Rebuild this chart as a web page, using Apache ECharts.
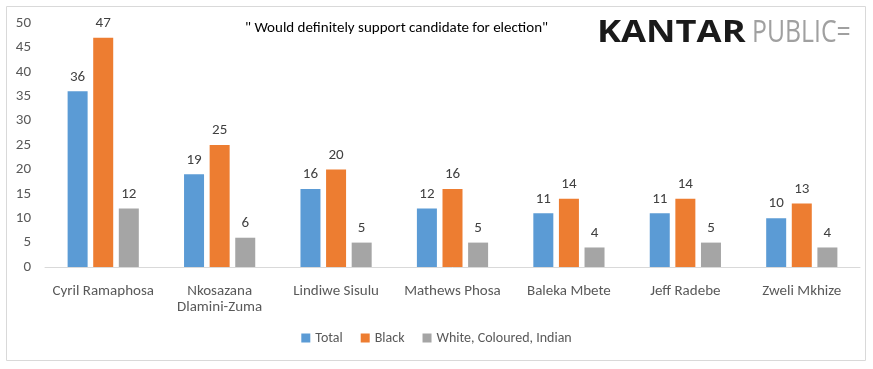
<!DOCTYPE html>
<html><head><meta charset="utf-8">
<script src="https://cdn.jsdelivr.net/npm/echarts@6/dist/echarts.min.js"></script>
<style>html,body{margin:0;padding:0;background:#fff}#c{width:873px;height:369px}</style>
</head><body><div id="c"></div>
<script>
const categories = ["Cyril Ramaphosa", "Nkosazana\nDlamini-Zuma", "Lindiwe Sisulu", "Mathews Phosa", "Baleka Mbete", "Jeff Radebe", "Zweli Mkhize"];
const totalVals = [36, 19, 16, 12, 11, 11, 10];
const blackVals = [47, 25, 20, 16, 14, 14, 13];
const wciVals = [12, 6, 5, 5, 4, 5, 4];
const seriesNames = ["Total", "Black", "White, Coloured, Indian"];
const yTicks = [0, 5, 10, 15, 20, 25, 30, 35, 40, 45, 50];
const titleText = "\" Would definitely support candidate for election\"";

const font = "Calibri, Carlito, Lato, sans-serif";
const chart = echarts.init(document.getElementById('c'));
const mk = (name, data, color) => ({
  name, type: 'bar', data, barWidth: 20, barGap: '28%',
  itemStyle: { color },
  label: { show: true, position: 'top', distance: 7, color: '#404040', fontSize: 15, fontFamily: font }
});
chart.setOption({
  animation: false,
  graphic: [
    { type: 'rect', shape: { x: 6.5, y: 6.5, width: 859, height: 354 }, style: { fill: 'none', stroke: '#d9d9d9', lineWidth: 1 } },
    { type: 'text', left: 245, top: 21, style: { text: titleText, fill: '#000', fontSize: 15, fontFamily: font } },
    { type: 'text', x: 597, y: 18, scaleX: 1.17, style: { x: 0, y: 0, verticalAlign: 'top', text: 'KANTAR', fill: '#1a1a1a', fontSize: 31, fontWeight: 'bold', fontFamily: "'Open Sans', sans-serif" } },
    { type: 'text', x: 752, y: 18, scaleX: 0.8, style: { x: 0, y: 0, verticalAlign: 'top', text: 'PUBLIC=', fill: '#a0a0a0', fontSize: 31, fontFamily: "'Open Sans', sans-serif" } }
  ],
  grid: { left: 45, right: 13, top: 23, bottom: 102, containLabel: false },
  legend: {
    data: seriesNames, bottom: 19, left: 'center', itemWidth: 9, itemHeight: 9, itemGap: 18,
    icon: 'rect', textStyle: { color: '#595959', fontSize: 14, fontFamily: font }
  },
  xAxis: {
    type: 'category', data: categories,
    axisLine: { lineStyle: { color: '#d9d9d9' } }, axisTick: { show: false },
    axisLabel: { color: '#595959', fontSize: 15, fontFamily: font, margin: 16, lineHeight: 16, interval: 0 }
  },
  yAxis: {
    type: 'value', min: yTicks[0], max: yTicks[yTicks.length - 1], interval: 5,
    splitLine: { show: false }, axisLine: { show: false }, axisTick: { show: false },
    axisLabel: { color: '#595959', fontSize: 15, fontFamily: font, margin: 14 }
  },
  series: [mk(seriesNames[0], totalVals, '#5b9bd5'), mk(seriesNames[1], blackVals, '#ed7d31'), mk(seriesNames[2], wciVals, '#a5a5a5')]
});
</script></body></html>
